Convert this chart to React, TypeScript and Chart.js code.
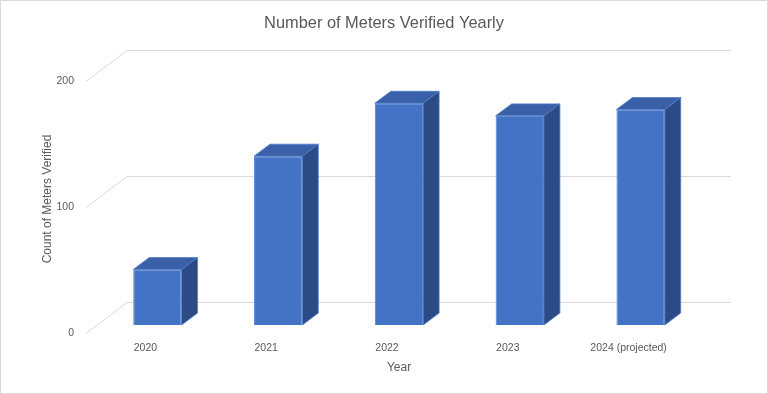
import { useEffect, useRef } from "react";
import { Chart, registerables } from "chart.js";

Chart.register(...registerables);

// ---- data ----
const categories = ["2020", "2021", "2022", "2023", "2024 (projected)"];
const meterCounts = [44, 134, 176, 166, 171];
const yMin = 0;
const yMax = 200;
const yStep = 100;

// ---- style ----
const FONT = "'Liberation Sans', Arial, sans-serif";
const TEXT = "#595959";
const GRID = "#d9d9d9";
const FRONT = "#4472C4";
const TOP = "#3A60A8";
const SIDE = "#2C4A85";

// oblique 3D projection of the plot (relative to the bar plane)
const BACK_DX = 30;
const BACK_DY = 23;
const FRONT_DX = 11;
const FRONT_DY = 8;
const BAR_DEPTH = 0.33; // side depth as fraction of bar width

const wallsPlugin = {
  id: "walls3d",
  beforeDatasetsDraw(chart: any) {
    const { ctx, chartArea, scales } = chart;
    const y = scales.y;
    ctx.save();
    ctx.strokeStyle = GRID;
    ctx.lineWidth = 1;
    y.ticks.forEach((t: any) => {
      const py = Math.round(y.getPixelForValue(t.value)) + 0.5;
      ctx.beginPath();
      ctx.moveTo(chartArea.left - FRONT_DX, py + FRONT_DY);
      ctx.lineTo(chartArea.left + BACK_DX, py - BACK_DY);
      ctx.lineTo(chartArea.right + BACK_DX, py - BACK_DY);
      ctx.stroke();
    });
    ctx.restore();
  },
};

const barsPlugin = {
  id: "bars3d",
  afterDatasetsDraw(chart: any) {
    const { ctx } = chart;
    const meta = chart.getDatasetMeta(0);
    ctx.save();
    meta.data.forEach((bar: any) => {
      const { x, y, base, width } = bar.getProps(["x", "y", "base", "width"], true);
      const x0 = x - width / 2;
      const x1 = x + width / 2;
      const dx = width * BAR_DEPTH;
      const dy = dx * 0.75;
      // top face
      ctx.fillStyle = TOP;
      ctx.beginPath();
      ctx.moveTo(x0, y);
      ctx.lineTo(x0 + dx, y - dy);
      ctx.lineTo(x1 + dx, y - dy);
      ctx.lineTo(x1, y);
      ctx.closePath();
      ctx.fill();
      ctx.strokeStyle = "#4F7CCB";
      ctx.lineWidth = 0.8;
      ctx.stroke();
      // side face
      ctx.fillStyle = SIDE;
      ctx.beginPath();
      ctx.moveTo(x1, y);
      ctx.lineTo(x1 + dx, y - dy);
      ctx.lineTo(x1 + dx, base - dy);
      ctx.lineTo(x1, base);
      ctx.closePath();
      ctx.fill();
      ctx.stroke();
    });
    ctx.restore();
  },
};

const borderPlugin = {
  id: "outerBorder",
  afterDraw(chart: any) {
    const { ctx, width, height } = chart;
    ctx.save();
    ctx.strokeStyle = GRID;
    ctx.lineWidth = 1;
    ctx.strokeRect(0.5, 0.5, width - 1, height - 1);
    ctx.restore();
  },
};

export default function App() {
  const ref = useRef<HTMLCanvasElement | null>(null);

  useEffect(() => {
    if (!ref.current) return;
    const chart = new Chart(ref.current, {
      type: "bar",
      data: {
        labels: categories,
        datasets: [
          {
            label: "Count of Meters Verified",
            data: meterCounts,
            backgroundColor: FRONT,
            borderColor: "#5082D6",
            borderWidth: 1,
            barPercentage: 0.4,
            categoryPercentage: 1.0,
          },
        ],
      },
      options: {
        responsive: true,
        maintainAspectRatio: false,
        animation: false,
        layout: { padding: 0 },
        plugins: {
          legend: { display: false },
          tooltip: { enabled: false },
          title: {
            display: true,
            text: "Number of Meters Verified Yearly",
            color: TEXT,
            font: { family: FONT, size: 16.4, weight: "normal" },
            padding: { top: 13.2, bottom: 40.12 },
          },
        },
        scales: {
          x: {
            grid: { display: false, drawTicks: false, tickLength: 0 },
            border: { display: false },
            ticks: {
              color: TEXT,
              font: { family: FONT, size: 10.5 },
              padding: 17,
              labelOffset: -12,
              maxRotation: 0,
              autoSkip: false,
            },
            title: {
              display: true,
              text: "Year",
              color: TEXT,
              font: { family: FONT, size: 12 },
              padding: 19,
            },
            afterFit: (s: any) => {
              s.height = 69;
            },
          },
          y: {
            min: yMin,
            max: yMax,
            grid: { display: false, drawTicks: false, tickLength: 0 },
            border: { display: false },
            ticks: {
              stepSize: yStep,
              color: TEXT,
              font: { family: FONT, size: 10.5 },
              padding: 23,
              labelOffset: 8,
            },
            title: {
              display: true,
              text: "Count of Meters Verified",
              color: TEXT,
              font: { family: FONT, size: 12 },
              padding: 40,
            },
            afterFit: (s: any) => {
              s.width = 97;
            },
          },
          // empty right-hand spacer (room for the 3D back wall)
          yRight: {
            position: "right",
            min: yMin,
            max: yMax,
            grid: { display: false, drawTicks: false, tickLength: 0 },
            border: { display: false },
            ticks: { display: false },
            afterFit: (s: any) => {
              s.width = 67;
            },
          },
        },
      },
      plugins: [wallsPlugin, barsPlugin, borderPlugin],
    } as any);
    return () => chart.destroy();
  }, []);

  return (
    <div
      style={{
        position: "fixed",
        left: 0,
        top: 0,
        width: 768,
        height: 394,
        background: "#ffffff",
      }}
    >
      <canvas ref={ref} />
    </div>
  );
}
